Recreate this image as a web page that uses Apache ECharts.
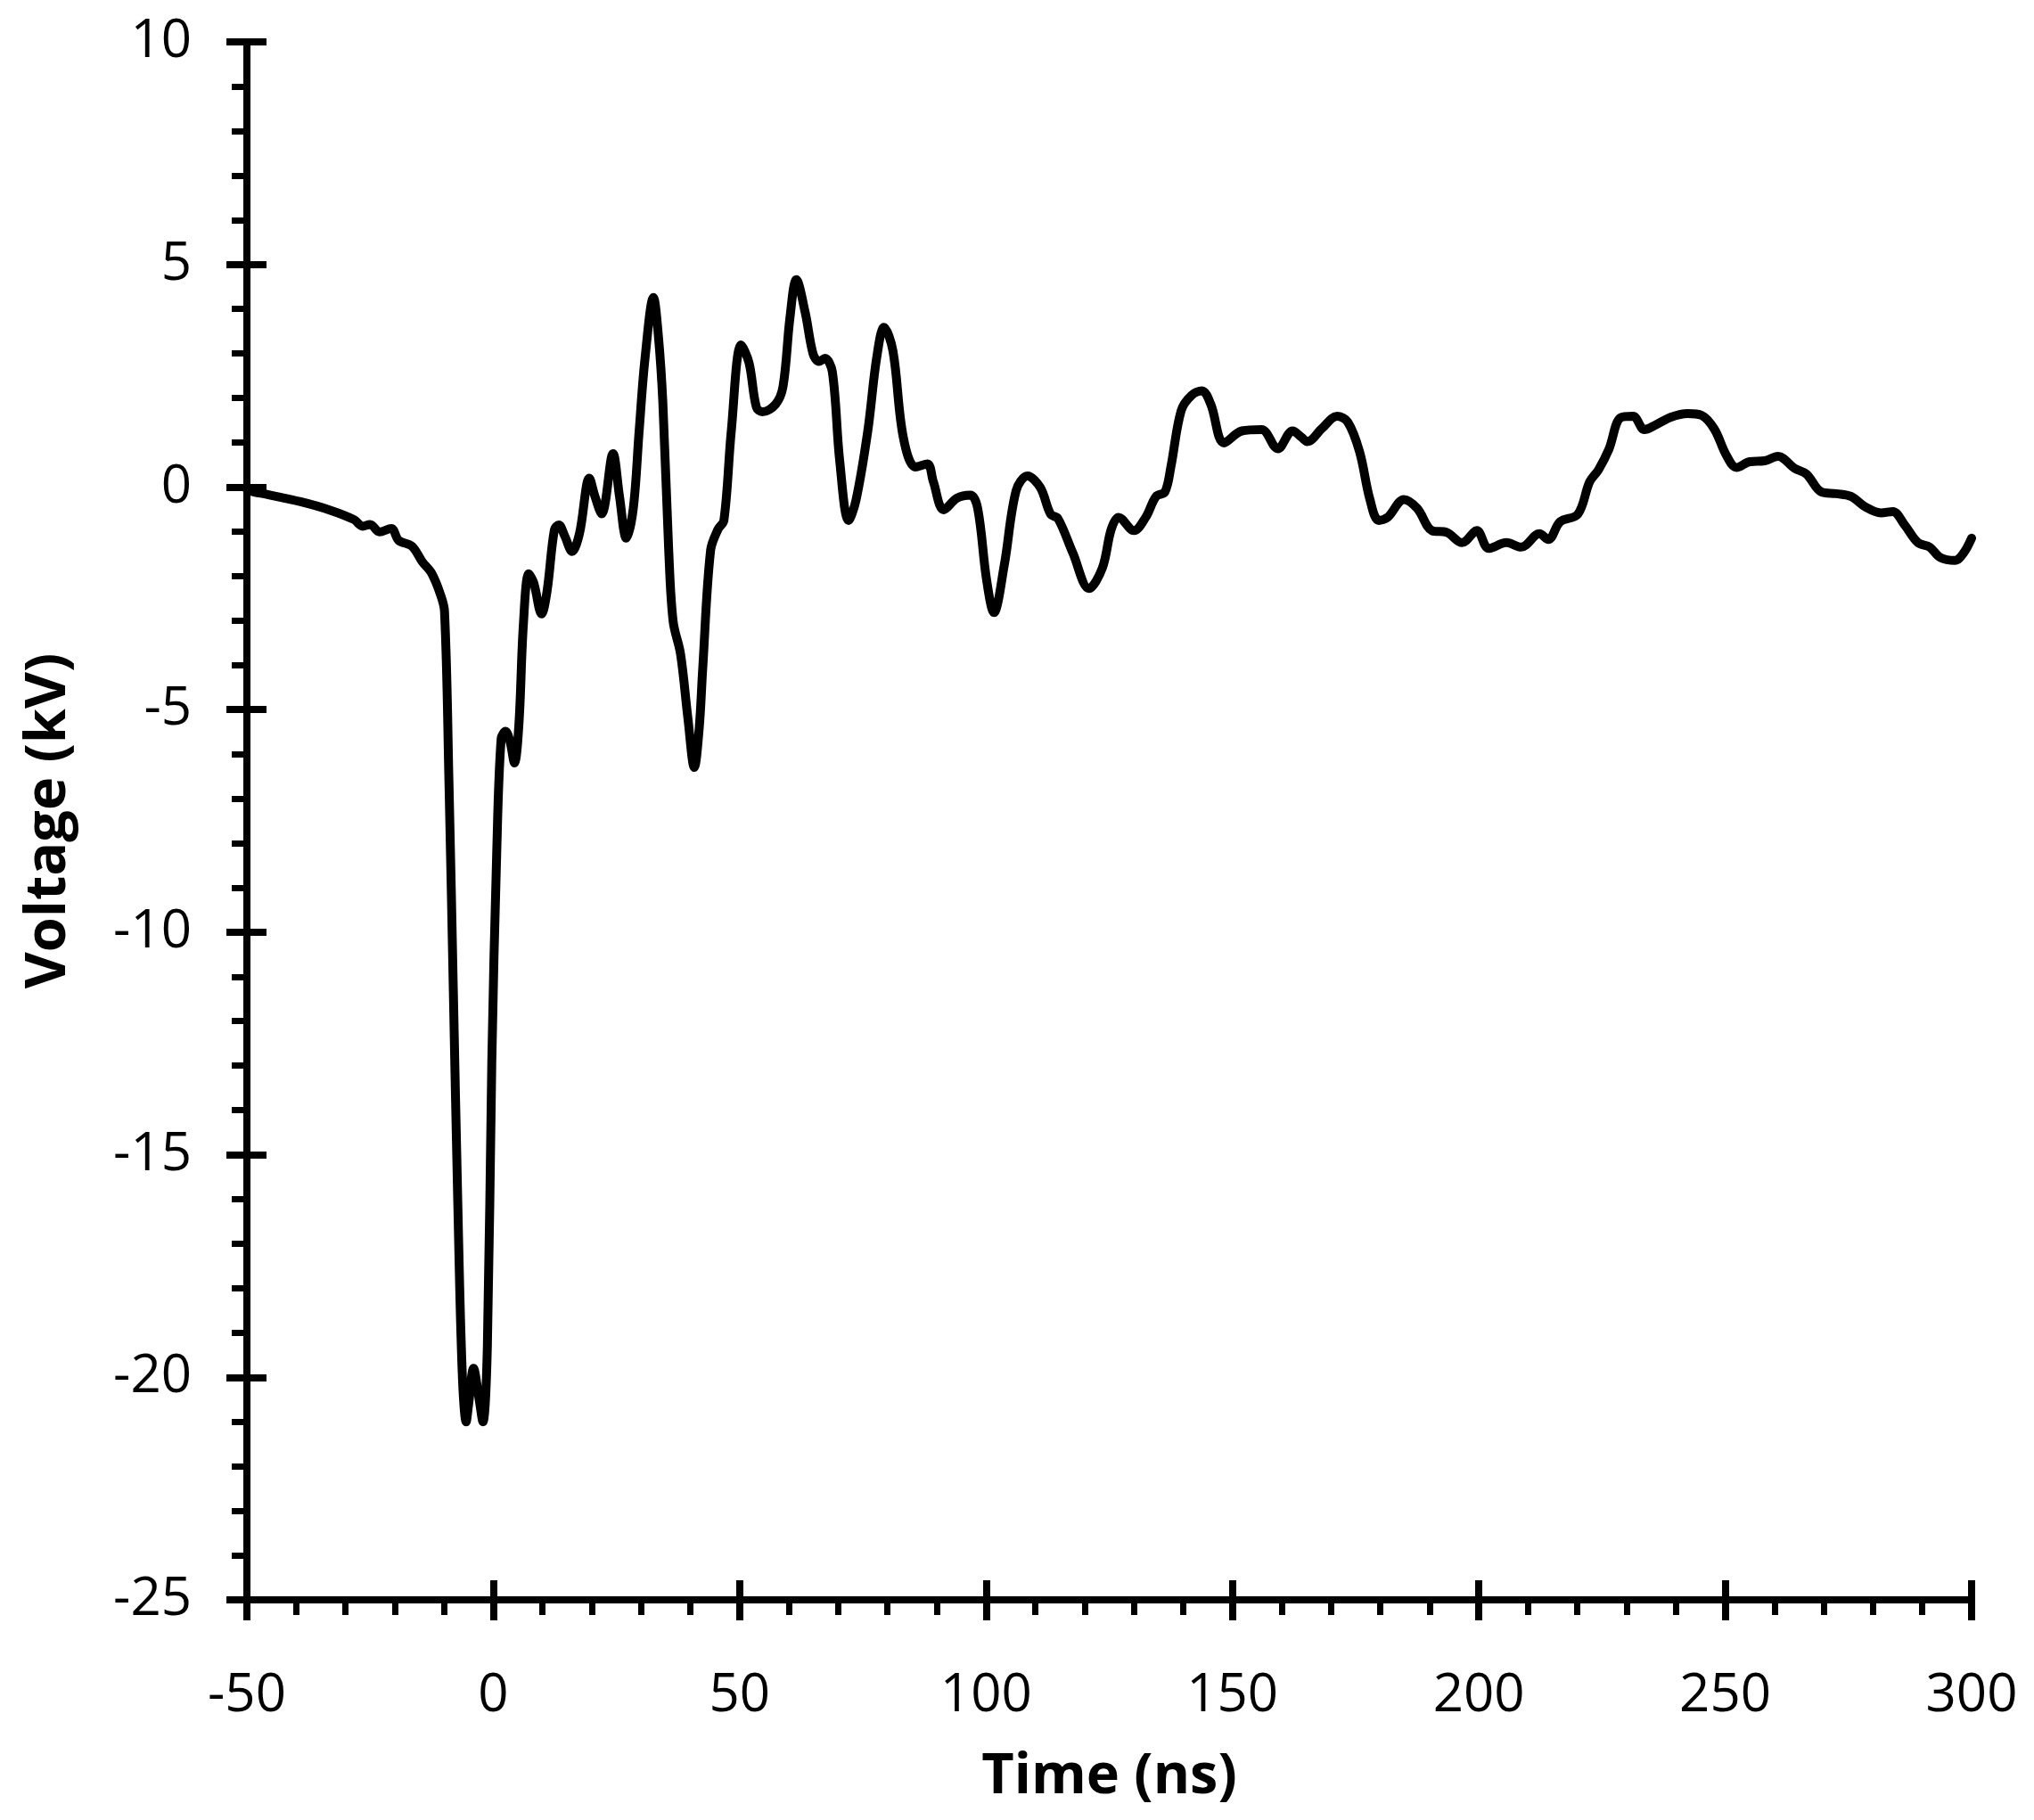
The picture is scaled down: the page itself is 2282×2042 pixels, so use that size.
<!DOCTYPE html>
<html>
<head>
<meta charset="utf-8">
<title>Voltage vs time</title>
<script src="https://cdn.jsdelivr.net/npm/echarts@6/dist/echarts.min.js"></script>
<style>
  html, body { margin: 0; padding: 0; background: #fff; }
  #chart { width: 2282px; height: 2042px; }
</style>
</head>
<body>
<div id="chart"></div>
<script>
// time (ns)
const timeNs = [
  -50, -49.4, -45.8, -39.1, -33.1, -28.3, -26.5, -25, -23.1, -20.7, -19.2, -16.5, -14.4, -12.6, -10.8, -9.9,
  -9, -8.1, -7.2, -6.3, -5.5, -5, -4, -3, -2.1, -1.2, -0.3, 0.7, 1.6, 2.5, 3.4, 4.3, 5.2, 6.1, 7.2, 8.2,
  9.8, 10.9, 12.4, 13.3, 14.5, 16, 17.5, 19.5, 20.6, 22, 24.3, 25.6, 27, 28.4, 29.6, 30.8, 32.5, 33.5,
  34.4, 35.6, 36.5, 38, 39.5, 40.8, 41.8, 42.5, 44.1, 45.6, 46.8, 48.3, 50.3, 51.9, 53.4, 54.6, 57.3,
  58.8, 60.2, 61.5, 63.3, 64.9, 66.1, 67.3, 68.8, 70.3, 72.1, 73.6, 76, 77.8, 79.3, 81.1, 83.2, 85.7,
  88.1, 89.3, 91.4, 94.1, 96.8, 98.3, 100.1, 101.6, 103.7, 106.1, 108.4, 111, 113.1, 114.6, 117.6,
  120.9, 123.6, 125.4, 126.9, 130, 132.4, 134.5, 136.3, 137.5, 139.6, 141.7, 143.8, 145.6, 148.3,
  151.9, 155.9, 159.2, 162.2, 164, 165.2, 168.2, 171.2, 173.4, 175.8, 177.9, 179.7, 181.5, 184.8,
  187.5, 190.5, 193.5, 196.6, 199.6, 202, 205.6, 208.6, 212.3, 214.1, 216.5, 220.1, 222.5, 224.3,
  226.4, 228.8, 231.3, 233.6, 235.8, 239, 242.4, 245.2, 247.8, 250.2, 252.3, 255, 258, 260.7, 264.1,
  266.5, 269.5, 272.5, 275.5, 278.5, 281.6, 284, 286.4, 289.1, 291.5, 293.6, 296.6, 298.4, 300
]

// voltage (kV) at each time above
const voltageKv = [
  -0.05, -0.09, -0.17, -0.33, -0.52, -0.73, -0.88, -0.84, -1.01, -0.93, -1.2, -1.33, -1.68, -1.92, -2.39, -2.79,
  -6.6, -11.35, -16.1, -19.9, -21.0, -20.6, -19.8, -20.4, -21.0, -19.3, -12.9, -8.2, -5.65, -5.49, -5.72, -6.2, -5.33, -3.1, -1.95, -2.15,
  -2.85, -2.35, -0.96, -0.85, -1.1, -1.45, -1.04, 0.2, -0.2, -0.6, 0.75, -0.2, -1.15, -0.49, 1.26, 2.9, 4.26, 3.4,
  1.92, -1.42, -3.02, -3.75, -5.2, -6.3, -5.4, -4.08, -1.42, -0.95, -0.75, 1.26, 3.19, 2.79, 1.79, 1.69, 1.86,
  2.26, 3.8, 4.66, 3.92, 2.99, 2.82, 2.89, 2.59, 0.59, -0.75, -0.3, 1.26, 2.9, 3.59, 3.06, 1.12, 0.45,
  0.52, 0.12, -0.51, -0.25, -0.18, -0.48, -2.08, -2.82, -1.75, -0.08, 0.25, -0.01, -0.61, -0.71, -1.48,
  -2.28, -1.82, -0.95, -0.68, -0.98, -0.68, -0.21, -0.11, 0.45, 1.72, 2.06, 2.16, 1.86, 0.99,
  1.26, 1.29, 0.86, 1.26, 1.12, 1.02, 1.32, 1.59, 1.46, 0.79, -0.28, -0.75, -0.68, -0.28,
  -0.48, -0.98, -1.02, -1.25, -0.98, -1.38, -1.25, -1.35, -1.05, -1.18, -0.78, -0.61, 0.12, 0.39,
  0.85, 1.56, 1.59, 1.29, 1.39, 1.57, 1.65, 1.61, 1.3, 0.72, 0.44, 0.57, 0.59, 0.69, 0.42,
  0.29, -0.11, -0.15, -0.21, -0.45, -0.58, -0.55, -0.85, -1.25, -1.35, -1.58, -1.65, -1.48, -1.15
]

const xRange = [-50, 300]
const yRange = [-25, 10]
const xStep = 50
const yStep = 5

const fontFamily = '"Open Sans", "Noto Sans", sans-serif'
const ink = '#000'

const chart = echarts.init(document.getElementById('chart'), null, { renderer: 'canvas' })

// shared look for the visible axes
const lineStyle = { color: ink, width: 8 }
const labelStyle = { color: ink, fontFamily: fontFamily, fontSize: 60 }
const nameStyle = { color: ink, fontFamily: fontFamily, fontSize: 63, fontWeight: 'bold' }

chart.setOption({
  animation: false,
  backgroundColor: '#fff',
  grid: {
    left: 277,
    right: 70,
    top: 47,
    bottom: 247,
    containLabel: false
  },
  xAxis: [{
    type: 'value',
    min: xRange[0],
    max: xRange[1],
    interval: xStep,
    name: 'Time (ns)',
    nameLocation: 'middle',
    nameGap: 168,
    nameTextStyle: nameStyle,
    axisLine: { show: true, onZero: false, lineStyle: lineStyle },
    axisTick: { show: true, inside: false, length: 23, lineStyle: lineStyle },
    minorTick: { show: true, splitNumber: 5, length: 17, lineStyle: { color: ink, width: 7 } },
    axisLabel: Object.assign({ margin: 78 }, labelStyle),
    splitLine: { show: false }
  }, {
    // inner half of the major ticks, they cross the axis in the original
    type: 'value',
    position: 'bottom',
    min: xRange[0],
    max: xRange[1],
    interval: xStep,
    axisLine: { show: false, onZero: false },
    axisTick: { show: true, inside: true, length: 22, lineStyle: lineStyle },
    axisLabel: { show: false },
    splitLine: { show: false }
  }],
  yAxis: [{
    type: 'value',
    min: yRange[0],
    max: yRange[1],
    interval: yStep,
    name: 'Voltage (kV)',
    nameLocation: 'middle',
    nameGap: 190,
    nameRotate: 90,
    nameTextStyle: nameStyle,
    axisLine: { show: true, onZero: false, lineStyle: lineStyle },
    axisTick: { show: true, inside: false, length: 23, lineStyle: lineStyle },
    minorTick: { show: true, splitNumber: 5, length: 17, lineStyle: { color: ink, width: 7 } },
    axisLabel: Object.assign({ margin: 62 }, labelStyle),
    splitLine: { show: false }
  }, {
    type: 'value',
    position: 'left',
    min: yRange[0],
    max: yRange[1],
    interval: yStep,
    axisLine: { show: false, onZero: false },
    axisTick: { show: true, inside: true, length: 22, lineStyle: lineStyle },
    axisLabel: { show: false },
    splitLine: { show: false }
  }],
  series: [{
    name: 'Voltage',
    type: 'line',
    data: timeNs.map((t, i) => [t, voltageKv[i]]),
    showSymbol: false,
    smooth: 0.35,
    clip: true,
    lineStyle: { color: ink, width: 10, join: 'round', cap: 'round' }
  }]
})
</script>
</body>
</html>
